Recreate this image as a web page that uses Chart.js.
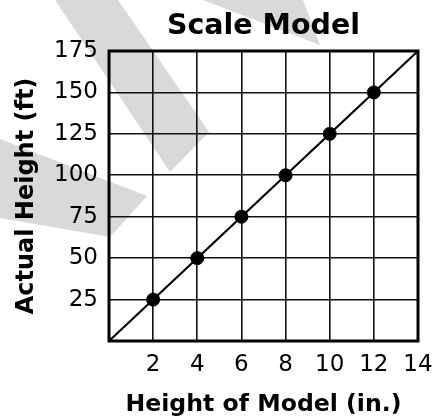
<!DOCTYPE html>
<html>
<head>
<meta charset="utf-8">
<script src="https://cdn.jsdelivr.net/npm/chart.js@4"></script>
<style>
  html, body { margin: 0; padding: 0; background: #fff; }
  #wrap { position: relative; width: 432px; height: 417px; }
  #wm { position: absolute; left: 0; top: 0; z-index: 0; }
  #c { position: absolute; left: 0; top: 0; z-index: 1; }
</style>
</head>
<body>
<div id="wrap">
  <svg id="wm" width="432" height="417">
    <polygon points="55,0 118,0 209,132 170,172" fill="#d9d9d9"/>
    <polygon points="203,0 303,0 320,45" fill="#d9d9d9"/>
    <polygon points="0,139 147,196 110,237 0,218" fill="#d9d9d9"/>
  </svg>
  <canvas id="c" width="432" height="417"></canvas>
</div>
<script>
const modelHeights = [2, 4, 6, 8, 10, 12];
const actualHeights = [25, 50, 75, 100, 125, 150];
const lineX = [0, 14];
const lineY = [0, 175];
const xTicks = [2, 4, 6, 8, 10, 12, 14];
const yTicks = [25, 50, 75, 100, 125, 150, 175];

const FONT = "'DejaVu Sans', Verdana, sans-serif";

const framePlugin = {
  id: 'frame',
  afterDatasetsDraw(chart) {
    const {ctx, chartArea: a} = chart;
    ctx.save();
    ctx.strokeStyle = '#000';
    ctx.lineWidth = 3;
    ctx.strokeRect(a.left, a.top, a.right - a.left, a.bottom - a.top);
    ctx.restore();
  }
};

new Chart(document.getElementById('c'), {
  type: 'scatter',
  data: {
    datasets: [
      {
        data: modelHeights.map((x, i) => ({x: x, y: actualHeights[i]})),
        backgroundColor: '#000',
        borderColor: '#000',
        pointRadius: 6.5,
        pointHoverRadius: 6.5,
        showLine: false
      },
      {
        data: lineX.map((x, i) => ({x: x, y: lineY[i]})),
        borderColor: '#000',
        borderWidth: 2.2,
        pointRadius: 0,
        showLine: true,
        clip: false
      }
    ]
  },
  options: {
    responsive: false,
    animation: false,
    devicePixelRatio: 1,
    layout: { padding: { left: 0, right: 0, top: 0, bottom: 0 } },
    plugins: {
      legend: { display: false },
      tooltip: { enabled: false },
      title: {
        display: true,
        text: 'Scale Model',
        fullSize: false,
        color: '#000',
        font: { family: FONT, size: 28.5, weight: 'bold' },
        padding: { top: 9, bottom: 7.8 }
      }
    },
    scales: {
      x: {
        type: 'linear',
        min: 0,
        max: 14,
        afterBuildTicks: s => { s.ticks = xTicks.map(v => ({value: v})); },
        afterFit: s => { s.height = 76; s.paddingRight = 14; s.paddingLeft = 0; },
        grid: { color: '#111', lineWidth: 1.6, drawTicks: false },
        border: { display: false },
        ticks: { color: '#000', font: { family: FONT, size: 23 }, padding: 10, maxRotation: 0, autoSkip: false },
        title: {
          display: true,
          text: 'Height of Model (in.)',
          color: '#000',
          font: { family: FONT, size: 23.6, weight: 'bold', lineHeight: 1.0 },
          padding: { top: 0, bottom: 0 }
        }
      },
      y: {
        type: 'linear',
        min: 0,
        max: 175,
        afterBuildTicks: s => { s.ticks = yTicks.map(v => ({value: v})); },
        afterFit: s => { s.width = 109; },
        grid: { color: '#111', lineWidth: 1.6, drawTicks: false },
        border: { display: false },
        ticks: { color: '#000', font: { family: FONT, size: 23 }, padding: 11, autoSkip: false },
        title: {
          display: true,
          text: 'Actual Height (ft)',
          color: '#000',
          font: { family: FONT, size: 24, weight: 'bold' },
          padding: { top: 12, bottom: 0 }
        }
      }
    }
  },
  plugins: [framePlugin]
});
</script>
</body>
</html>
